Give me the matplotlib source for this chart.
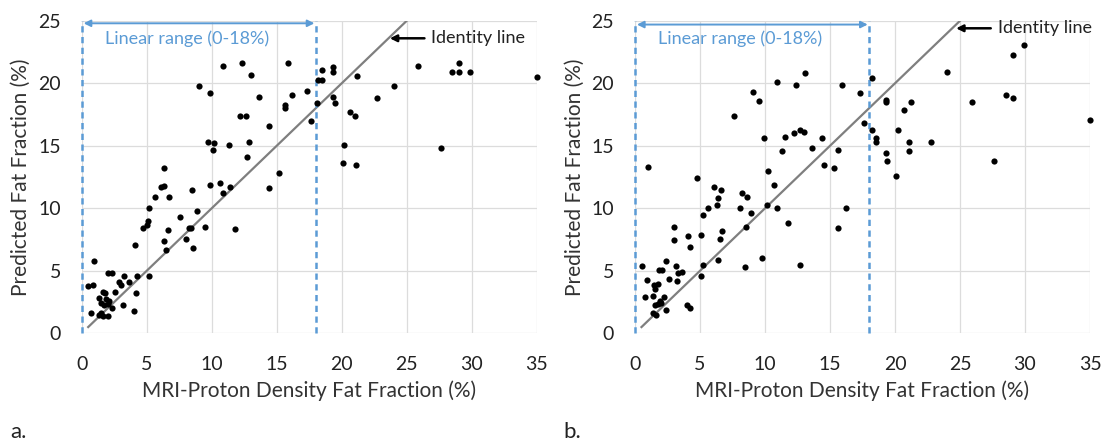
import matplotlib
matplotlib.use("Agg")
import matplotlib.pyplot as plt

plt.rcParams['font.family'] = ['Lato', 'DejaVu Sans']

# panel a: MRI-PDFF vs predicted fat fraction
a_x = [10.9, 12.3, 13.0, 9.05, 9.9, 13.6, 12.2, 12.6, 14.4, 9.7, 10.2, 10.1, 11.3, 12.9, 12.7, 15.2, 6.3, 9.9, 10.6, 11.4,
       10.9, 14.4, 8.5, 6.1, 6.3, 5.6, 6.7, 5.15, 5.1, 5.0, 4.75, 7.55, 8.85, 6.65, 8.25, 8.4, 9.45, 11.8, 6.3, 8.0,
       6.5, 8.55, 4.1, 0.95, 2.0, 2.35, 3.25, 4.25, 5.2, 2.85, 3.05, 3.65, 0.5, 0.9, 1.6, 1.8, 2.55, 4.15, 1.3, 1.85,
       1.5, 2.05, 1.75, 2.1, 3.2, 2.35, 0.75, 4.0, 1.35, 1.65, 2.05, 1.5, 15.9, 18.5, 19.3, 19.3, 18.2, 18.5, 21.2, 25.9,
       29.0, 28.5, 29.0, 29.9, 35.0, 16.2, 17.3, 24.0, 22.7, 19.3, 19.5, 15.6, 15.6, 18.1, 20.6, 21.0, 17.6, 20.2, 27.6, 20.1,
       21.1]
a_y = [21.4, 21.6, 20.7, 19.8, 19.2, 18.9, 17.4, 17.4, 16.6, 15.3, 15.2, 14.7, 15.1, 15.3, 14.1, 12.8, 13.2, 11.9, 12.0, 11.7,
       11.2, 11.6, 11.5, 11.7, 11.8, 10.9, 10.9, 10.0, 9.0, 8.7, 8.45, 9.3, 9.75, 8.3, 8.4, 8.4, 8.5, 8.35, 7.4, 7.55,
       6.7, 6.8, 7.05, 5.75, 4.8, 4.85, 4.55, 4.55, 4.55, 4.1, 3.9, 4.1, 3.75, 3.85, 3.3, 3.2, 3.3, 3.2, 2.8, 2.75,
       2.45, 2.35, 2.25, 2.6, 2.25, 2.0, 1.6, 1.8, 1.45, 1.35, 1.35, 1.65, 21.6, 21.1, 21.3, 20.9, 20.3, 20.3, 20.6, 21.4,
       21.6, 20.9, 20.9, 20.9, 20.5, 19.1, 19.4, 19.8, 18.8, 18.9, 18.4, 18.3, 18.0, 18.45, 17.7, 17.4, 17.0, 15.1, 14.8, 13.6,
       13.5]

# panel b
b_x = [1.0, 7.6, 9.1, 9.5, 10.9, 12.4, 13.1, 9.9, 11.5, 12.25, 12.7, 13.0, 14.4, 11.3, 13.6, 14.5, 10.25, 10.7, 4.75, 6.1,
       6.65, 6.4, 8.25, 8.6, 5.6, 6.3, 5.2, 8.1, 8.9, 10.15, 10.9, 11.8, 8.55, 6.7, 6.5, 3.0, 3.0, 4.1, 4.25, 5.1,
       6.35, 9.75, 12.7, 8.45, 5.25, 5.1, 0.55, 2.4, 1.85, 2.05, 3.15, 3.3, 3.65, 0.95, 2.6, 3.25, 1.45, 1.75, 1.55, 0.8,
       1.35, 2.2, 1.9, 1.75, 2.0, 2.4, 1.55, 4.0, 4.2, 1.4, 1.6, 15.9, 17.3, 18.2, 19.3, 19.3, 21.2, 20.7, 24.0, 25.9,
       29.05, 29.95, 28.5, 29.05, 35.0, 17.6, 18.2, 18.5, 18.5, 20.2, 21.05, 21.1, 22.8, 19.3, 19.4, 20.1, 27.6, 15.6, 15.3, 15.6,
       16.2]
b_y = [13.3, 17.4, 19.3, 18.6, 20.1, 19.9, 20.8, 15.6, 15.7, 16.0, 16.3, 16.1, 15.65, 14.6, 14.8, 13.5, 13.0, 11.9, 12.4, 11.7,
       11.5, 10.8, 11.25, 10.9, 10.05, 10.3, 9.5, 10.0, 9.6, 10.25, 10.05, 8.85, 8.5, 8.2, 7.55, 8.5, 7.5, 7.8, 6.9, 7.85,
       5.9, 6.0, 5.5, 5.3, 5.45, 4.55, 5.35, 5.8, 5.05, 5.05, 5.4, 4.8, 4.9, 4.3, 4.35, 4.15, 3.85, 3.95, 3.55, 2.9,
       2.95, 2.9, 2.6, 2.35, 2.4, 1.9, 2.25, 2.25, 2.05, 1.65, 1.5, 19.9, 19.2, 20.4, 18.7, 18.5, 18.5, 17.9, 20.9, 18.5,
       22.3, 23.1, 19.1, 18.85, 17.1, 16.8, 16.3, 15.6, 15.3, 16.3, 15.3, 14.6, 15.3, 14.45, 13.8, 12.6, 13.8, 14.7, 13.2, 8.45,
       10.0]

ticks = [0, 5, 10, 15, 20, 25, 30, 35]
yticks = [0, 5, 10, 15, 20, 25]
identity = [0.5, 25]
linear_max = 18

BLUE = '#5b9bd5'
W, H = 1105, 443


def panel(fig, left_px, xs, ys, letter, letter_x, ident_y, ident_tip, arrow_y):
    ax = fig.add_axes([left_px / W, (H - 333.3) / H, 455 / W, 312.5 / H])
    ax.set_xlim(0, 35)
    ax.set_ylim(0, 25)
    ax.set_xticks(ticks)
    ax.set_yticks(yticks)
    ax.grid(True, color='#dcdcdc', lw=0.9)
    ax.set_axisbelow(True)
    for s in ax.spines.values():
        s.set_visible(False)
    ax.tick_params(length=0, labelsize=14, labelcolor='#222222')
    ax.tick_params(axis='x', pad=16)
    ax.tick_params(axis='y', pad=15)

    ax.plot(identity, identity, color='#7f7f7f', lw=1.6, zorder=2)
    for xv in [0, linear_max]:
        ax.axvline(xv, color=BLUE, lw=1.8, ls=(0, (2.5, 1.8)), zorder=3, clip_on=False)
    ax.scatter(xs, ys, s=20, color='black', zorder=4, clip_on=False, linewidths=0)

    ax.annotate('', xy=(0.15, arrow_y), xytext=(17.9, arrow_y),
                arrowprops=dict(arrowstyle='<|-|>', color=BLUE, lw=1.4, mutation_scale=10, shrinkA=0, shrinkB=0))
    ax.text(8.1, 23.6, 'Linear range (0-18%)', color=BLUE, fontsize=13, ha='center', va='center')
    ax.annotate('Identity line', xy=(ident_tip, ident_y), xytext=(ident_tip + 3.2, ident_y),
                fontsize=13, va='center', ha='left', color='#222222',
                arrowprops=dict(arrowstyle='-|>', color='black', lw=1.8, mutation_scale=10, shrinkA=3, shrinkB=0))

    ax.set_xlabel('MRI-Proton Density Fat Fraction (%)', fontsize=15, color='#333333', labelpad=6)
    ax.set_ylabel('Predicted Fat Fraction (%)', fontsize=15, color='#333333', labelpad=5)
    fig.text(letter_x / W, 1 - 432 / H, letter, fontsize=16, va='center', color='#222222')
    return ax


def main():
    fig = plt.figure(figsize=(W / 100, H / 100), dpi=100)
    panel(fig, 81.7, a_x, a_y, 'a.', 10, 23.6, 23.7, 24.8)
    panel(fig, 635, b_x, b_y, 'b.', 563, 24.4, 24.7, 24.7)
    fig.savefig('out.png', dpi=100)


if __name__ == "__main__":
    main()
